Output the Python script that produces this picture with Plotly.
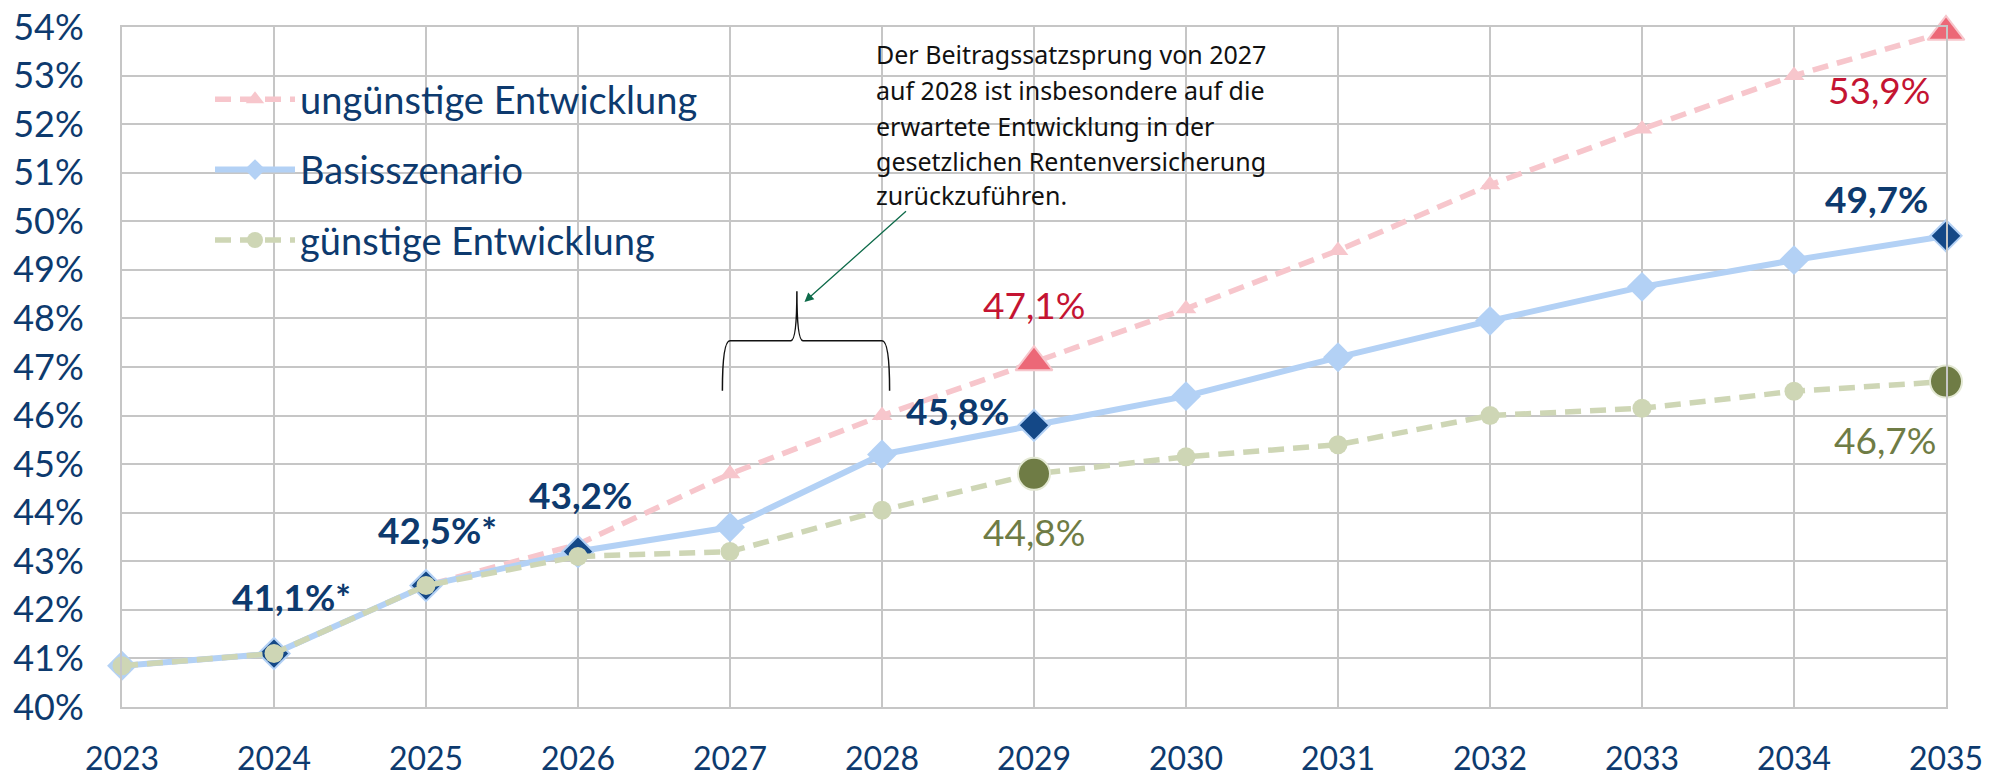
import plotly.graph_objects as go

# ---------------- data ----------------
years = list(range(2023, 2036))
year_labels = [str(y) for y in years]
y_ticks = list(range(40, 55))
y_tick_labels = [f"{t}%" for t in y_ticks]

series_names = ["ungünstige Entwicklung", "Basisszenario", "günstige Entwicklung"]
unguenstig = [40.85, 41.1, 42.5, 43.35, 44.8, 46.0, 47.1, 48.2, 49.4, 50.75, 51.9, 53.0, 53.9]
basis = [40.85, 41.1, 42.5, 43.2, 43.7, 45.2, 45.8, 46.4, 47.2, 47.95, 48.65, 49.2, 49.7]
guenstig = [40.85, 41.1, 42.5, 43.1, 43.2, 44.05, 44.8, 45.15, 45.4, 46.0, 46.15, 46.5, 46.7]

basis_highlight = [2024, 2025, 2026, 2029, 2035]
basis_star = [2024, 2025]          # values marked with *
ung_highlight = [2029, 2035]
gue_highlight = [2029, 2035]

note_lines = [
    "Der Beitragssatzsprung von 2027",
    "auf 2028 ist insbesondere auf die",
    "erwartete Entwicklung in der",
    "gesetzlichen Rentenversicherung",
    "zurückzuführen.",
]

# ---------------- style ----------------
W, H = 1991, 778
ML, MR, MT, MB = 122, 45, 27, 71
PW, PH = W - ML - MR, H - MT - MB

NAVY = "#0D3A6E"
NAVY_MK = "#144887"
BLUE = "#B3D1F5"
PINK = "#F7C6CC"
RED_MK = "#EC6877"
RED_TXT = "#C41432"
GREEN = "#CED6B5"
OLIVE = "#6F7C45"
GRID = "#C6C6C6"
FONT = "Lato"


def px_x(px):
    return (px - ML) / PW


def px_y(py):
    return 1 - (py - MT) / PH


def fmt(v):
    return f"{v:.1f}".replace(".", ",") + "%"


def pick(vals, sel):
    return [v for y, v in zip(years, vals) if y in sel]


fig = go.Figure()

# base lines
fig.add_trace(go.Scatter(
    x=years, y=unguenstig, name=series_names[0], legendgroup="a",
    mode="lines+markers", cliponaxis=False,
    line=dict(color=PINK, width=5.5, dash="16px,9px"),
    marker=dict(symbol="triangle-up", size=18, color=PINK),
))
fig.add_trace(go.Scatter(
    x=years, y=basis, name=series_names[1], legendgroup="b",
    mode="lines+markers", cliponaxis=False,
    line=dict(color=BLUE, width=6),
    marker=dict(symbol="diamond", size=23, color=BLUE),
))
fig.add_trace(go.Scatter(
    x=pick(years, basis_highlight), y=pick(basis, basis_highlight),
    mode="markers", showlegend=False, cliponaxis=False,
    marker=dict(symbol="diamond", size=24, color=NAVY_MK, line=dict(color=BLUE, width=2)),
))
fig.add_trace(go.Scatter(
    x=years, y=guenstig, name=series_names[2], legendgroup="c",
    mode="lines+markers", cliponaxis=False,
    line=dict(color=GREEN, width=5.5, dash="16px,9px"),
    marker=dict(symbol="circle", size=19, color=GREEN),
))
fig.add_trace(go.Scatter(
    x=pick(years, gue_highlight), y=pick(guenstig, gue_highlight),
    mode="markers", showlegend=False, cliponaxis=False,
    marker=dict(symbol="circle", size=32, color=OLIVE, line=dict(color="#E3E8D3", width=2)),
))
fig.add_trace(go.Scatter(
    x=pick(years, ung_highlight), y=pick(unguenstig, ung_highlight),
    mode="markers", showlegend=False, cliponaxis=False,
    marker=dict(symbol="triangle-up", size=32, color=RED_MK, line=dict(color=PINK, width=2)),
))

annotations = []

# data labels (offsets in px relative to the point)
basis_offsets = {2024: (17, 57), 2025: (11, 56), 2026: (2, 57), 2029: (-77, 15), 2035: (-70, 37)}
for yr in basis_highlight:
    v = basis[years.index(yr)]
    dx, dy = basis_offsets[yr]
    annotations.append(dict(
        x=yr, y=v, xref="x", yref="y", showarrow=False, xshift=dx, yshift=dy,
        text="<b>" + fmt(v) + ("*" if yr in basis_star else "") + "</b>",
        font=dict(family=FONT, size=37, color=NAVY),
    ))
ung_offsets = {2029: (0, 58), 2035: (-67, -58)}
for yr in ung_highlight:
    v = unguenstig[years.index(yr)]
    dx, dy = ung_offsets[yr]
    annotations.append(dict(
        x=yr, y=v, xref="x", yref="y", showarrow=False, xshift=dx, yshift=dy,
        text=fmt(v), font=dict(family=FONT, size=37, color=RED_TXT),
    ))
gue_offsets = {2029: (0, -58), 2035: (-61, -58)}
for yr in gue_highlight:
    v = guenstig[years.index(yr)]
    dx, dy = gue_offsets[yr]
    annotations.append(dict(
        x=yr, y=v, xref="x", yref="y", showarrow=False, xshift=dx, yshift=dy,
        text=fmt(v), font=dict(family=FONT, size=37, color=OLIVE),
    ))

# note text
note_y = [54, 90, 126, 161, 195]
for line, py in zip(note_lines, note_y):
    annotations.append(dict(
        x=px_x(874), y=px_y(py), xref="paper", yref="paper", xanchor="left", yanchor="middle",
        showarrow=False, text=line, font=dict(family="Noto Sans", size=25, color="#111111"),
    ))

# arrow
annotations.append(dict(
    x=2027.49, y=48.34, xref="x", yref="y", text="", showarrow=True,
    ax=103, ay=-92, arrowhead=2, arrowsize=1.4, arrowwidth=1.3, arrowcolor="#0E6B4A", standoff=0,
))

shapes = [
    # white backgrounds hiding the grid behind legend and note
    dict(type="rect", xref="paper", yref="paper", x0=px_x(165), x1=px_x(742), y0=px_y(275), y1=px_y(63),
         fillcolor="white", line=dict(width=0), layer="between"),
    dict(type="rect", xref="paper", yref="paper", x0=px_x(874), x1=px_x(1298), y0=px_y(235), y1=px_y(30),
         fillcolor="white", line=dict(width=0), layer="between"),
    # curly brace over 2027-2028
    dict(type="path", xref="x", yref="y",
         path=("M 2026.95,46.51 Q 2026.95,47.54 2027.0,47.54 L 2027.40,47.54 "
               "Q 2027.44,47.54 2027.44,48.56 Q 2027.44,47.54 2027.48,47.54 "
               "L 2028.0,47.54 Q 2028.05,47.54 2028.05,46.51"),
         line=dict(color="#111111", width=1.5)),
]

fig.update_layout(
    width=W, height=H,
    margin=dict(l=ML, r=MR, t=MT, b=MB, autoexpand=False),
    paper_bgcolor="white", plot_bgcolor="white",
    font=dict(family=FONT, color=NAVY),
    showlegend=True,
    legend=dict(
        x=px_x(210), y=px_y(68), xanchor="left", yanchor="top",
        bgcolor="rgba(0,0,0,0)", font=dict(family=FONT, size=38, color=NAVY),
        traceorder="grouped", tracegroupgap=18, itemwidth=80,
    ),
    annotations=annotations,
    shapes=shapes,
    xaxis=dict(
        range=[2023, 2035], tickmode="array", tickvals=years, ticktext=year_labels,
        showgrid=True, gridcolor=GRID, gridwidth=2, showline=True, mirror=True,
        linecolor=GRID, linewidth=2, ticks="", ticklabelstandoff=23, automargin=False,
        tickfont=dict(family=FONT, size=32, color=NAVY), zeroline=False,
    ),
    yaxis=dict(
        range=[40, 54], tickmode="array", tickvals=y_ticks, ticktext=y_tick_labels,
        showgrid=True, gridcolor=GRID, gridwidth=2, showline=True, mirror=True,
        linecolor=GRID, linewidth=2, ticks="", ticklabelstandoff=29, automargin=False,
        tickfont=dict(family=FONT, size=36, color=NAVY), zeroline=False,
    ),
)

fig.write_html(
    "out.html",
    config={"displayModeBar": False},
    post_script="document.body.style.margin='0';document.body.style.overflow='hidden';",
)
